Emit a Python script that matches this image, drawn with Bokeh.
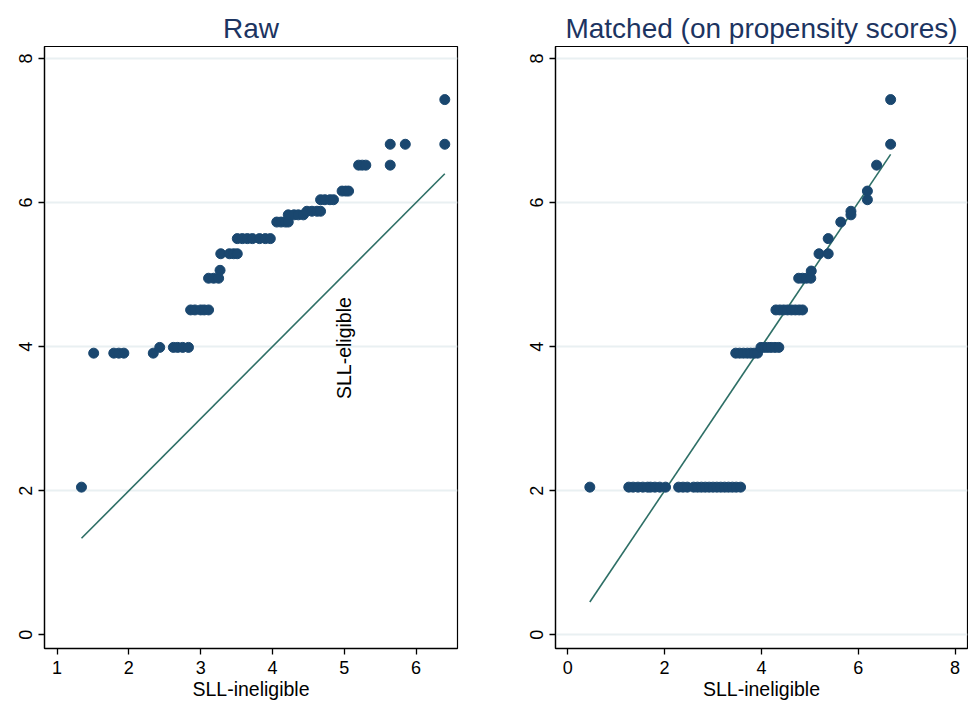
from bokeh.plotting import figure
from bokeh.layouts import row
from bokeh.models import Range1d, FixedTicker, Title
from bokeh.core.properties import value
from bokeh.embed import file_html
from bokeh.resources import INLINE
import math

# ---------------- data ----------------
raw_x = [1.34,
         1.51, 1.79, 1.86, 1.93, 2.34,
         2.43, 2.62, 2.68, 2.75, 2.83,
         2.86, 2.92, 3.00, 3.05, 3.11,
         3.11, 3.18, 3.25,
         3.27,
         3.28, 3.40, 3.46, 3.51,
         3.51, 3.58, 3.65, 3.72, 3.82, 3.90, 3.97,
         4.06, 4.12, 4.18, 4.22,
         4.22, 4.30, 4.36, 4.43,
         4.48, 4.55, 4.62, 4.67,
         4.67, 4.73, 4.80, 4.85,
         4.97, 5.02, 5.06,
         5.20, 5.25, 5.30, 5.64,
         5.64, 5.85, 6.40,
         6.40]
raw_y = [2.05,
         3.91, 3.91, 3.91, 3.91, 3.91,
         3.99, 3.99, 3.99, 3.99, 3.99,
         4.51, 4.51, 4.51, 4.51, 4.51,
         4.95, 4.95, 4.95,
         5.06,
         5.29, 5.29, 5.29, 5.29,
         5.50, 5.50, 5.50, 5.50, 5.50, 5.50, 5.50,
         5.73, 5.73, 5.73, 5.73,
         5.83, 5.83, 5.83, 5.83,
         5.88, 5.88, 5.88, 5.88,
         6.04, 6.04, 6.04, 6.04,
         6.16, 6.16, 6.16,
         6.52, 6.52, 6.52, 6.52,
         6.81, 6.81, 6.81,
         7.43]

matched_x = [0.455, 1.26, 1.35, 1.45, 1.55, 1.65, 1.71, 1.80, 1.90, 2.02,
             2.29, 2.38, 2.47, 2.60, 2.68, 2.76, 2.84, 2.92, 3.00, 3.08,
             3.16, 3.24, 3.32, 3.40, 3.48, 3.57,
             3.47, 3.55, 3.63, 3.71, 3.78, 3.85, 3.92,
             3.99, 4.06, 4.13, 4.20, 4.28, 4.36,
             4.30, 4.38, 4.46, 4.54, 4.62, 4.70, 4.78, 4.85,
             4.77, 4.85, 4.93, 5.02,
             5.03,
             5.19, 5.38,
             5.38,
             5.64,
             5.85,
             5.85,
             6.19,
             6.19,
             6.38,
             6.67,
             6.67]
matched_y = [2.05, 2.05, 2.05, 2.05, 2.05, 2.05, 2.05, 2.05, 2.05, 2.05,
             2.05, 2.05, 2.05, 2.05, 2.05, 2.05, 2.05, 2.05, 2.05, 2.05,
             2.05, 2.05, 2.05, 2.05, 2.05, 2.05,
             3.91, 3.91, 3.91, 3.91, 3.91, 3.91, 3.91,
             3.99, 3.99, 3.99, 3.99, 3.99, 3.99,
             4.51, 4.51, 4.51, 4.51, 4.51, 4.51, 4.51, 4.51,
             4.95, 4.95, 4.95, 4.95,
             5.05,
             5.29, 5.29,
             5.50,
             5.73,
             5.83,
             5.88,
             6.04,
             6.16,
             6.52,
             6.81,
             7.43]

raw_xticks = [1, 2, 3, 4, 5, 6]
matched_xticks = [0, 2, 4, 6, 8]
yticks = [0, 2, 4, 6, 8]

titles = ["Raw", "Matched (on propensity scores)"]
x_label = "SLL-ineligible"
y_label = "SLL-eligible"

# ---------------- style ----------------
FONT = "Liberation Sans"
MARKER = "#1a476f"
LINE = "#2e6f66"
TITLE_C = "#1c3461"
GRID = "#e9f0f2"


def make_panel(xs, ys, title, xticks, xr, width, mbl, mbr, grid_ticks, ylab_text=None):
    p = figure(width=width, height=705, output_backend="svg", toolbar_location=None,
               x_range=Range1d(*xr), y_range=Range1d(-0.19, 8.167),
               min_border_left=mbl, min_border_right=mbr,
               min_border_top=46, min_border_bottom=57)
    p.background_fill_color = "white"
    p.border_fill_color = "white"
    p.outline_line_color = "black"
    p.outline_line_width = 1.2

    t = Title(text=title, align="center", text_font=FONT, text_font_size="28px",
              text_font_style="normal", text_color=TITLE_C, standoff=6,
              text_line_height=1.0)
    p.add_layout(t, "above")

    p.xgrid.visible = False
    p.ygrid.ticker = FixedTicker(ticks=grid_ticks)
    p.ygrid.grid_line_color = GRID
    p.ygrid.grid_line_width = 2

    for ax in (p.xaxis[0], p.yaxis[0]):
        ax.axis_line_width = 1.3
        ax.major_tick_line_width = 1.3
        ax.major_tick_out = 6
        ax.major_tick_in = 0
        ax.minor_tick_line_color = None
        ax.major_label_text_font = FONT
        ax.major_label_text_font_size = "18px"
        ax.major_label_text_color = "black"
        ax.major_label_text_line_height = 1.0
        ax.major_label_standoff = 6

    p.xaxis.ticker = FixedTicker(ticks=xticks)
    p.yaxis.ticker = FixedTicker(ticks=yticks)
    p.yaxis.major_label_orientation = "vertical"
    p.xaxis.axis_label = x_label
    p.xaxis.axis_label_text_font = FONT
    p.xaxis.axis_label_text_font_size = "19.5px"
    p.xaxis.axis_label_text_font_style = "normal"
    p.xaxis.axis_label_text_color = "black"
    p.xaxis.axis_label_text_line_height = 1.0
    p.xaxis.axis_label_standoff = 1

    lo, hi = min(xs), max(xs)
    p.line([lo, hi], [lo, hi], line_color=LINE, line_width=1.6)
    p.scatter(xs, ys, size=10, fill_color=MARKER, line_color=MARKER)

    if ylab_text is not None:
        p.text(x=[4.99], y=[3.98], text=[ylab_text], angle=math.pi / 2,
               text_align="center", text_baseline="middle",
               text_font=value(FONT), text_font_size="19.5px", text_color="black")
    return p


p1 = make_panel(raw_x, raw_y, titles[0], raw_xticks, (0.825, 6.577), 476, 44, 19,
                [2, 4, 6, 8], ylab_text=y_label)
p2 = make_panel(matched_x, matched_y, titles[1], matched_xticks, (-0.254, 8.258), 492, 79, 1,
                [0, 2, 4, 6, 8])

layout = row(p1, p2, spacing=0)
open("out.html", "w").write(file_html(layout, INLINE))
